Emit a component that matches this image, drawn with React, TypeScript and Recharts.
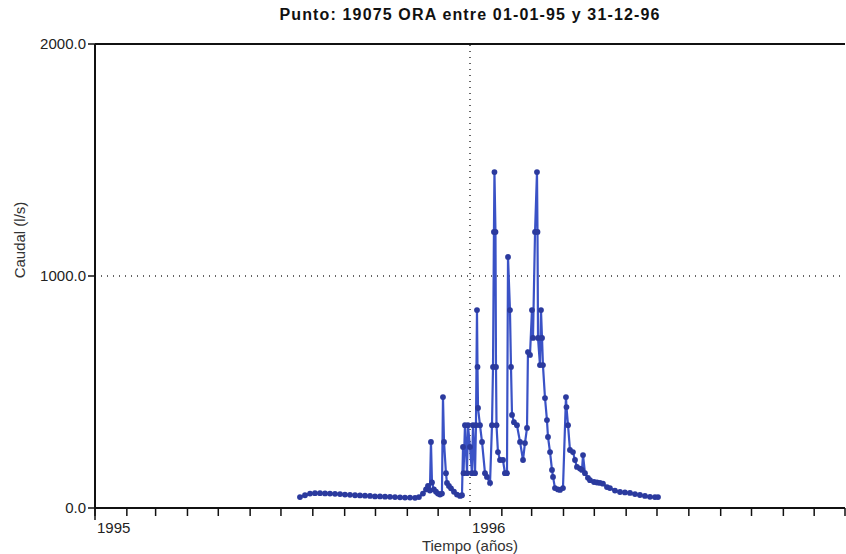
import { LineChart, Line, XAxis, YAxis, ReferenceLine } from 'recharts';

// Días desde 01-01-95 y caudal medido (l/s)
const dias = [
  199.5, 204.4, 209.3, 214.1, 219.0, 223.9, 228.7, 233.6, 238.5, 243.3,
  248.2, 253.1, 257.9, 262.8, 267.7, 272.5, 277.4, 282.3, 287.1, 292.0,
  296.9, 301.7, 306.6, 311.5, 315.3, 319.2, 322.2, 324.1, 326.0, 327.0,
  328.0, 329.9, 331.9, 333.8, 335.8, 337.7, 338.7, 339.7, 341.6, 342.6,
  344.5, 346.5, 349.4, 352.3, 355.3, 357.2, 358.2, 358.7, 360.1, 362.1,
  363.0, 365.0, 366.9, 367.9, 369.9, 370.8, 371.8, 372.3, 372.8, 374.7,
  376.7, 379.6, 381.5, 384.5, 386.4, 387.4, 388.3, 388.8, 389.8, 390.3,
  390.8, 392.2, 394.2, 397.1, 399.0, 401.0, 402.0, 403.9, 404.9, 405.9,
  407.8, 410.7, 413.7, 416.6, 418.5, 420.5, 421.4, 423.4, 425.3, 426.3,
  428.3, 430.2, 430.7, 431.2, 433.1, 434.1, 435.1, 436.0, 438.0, 439.9,
  440.9, 442.9, 444.8, 445.8, 447.7, 450.6, 452.6, 455.5, 458.4, 458.9,
  460.4, 462.3, 465.2, 467.2, 469.1, 472.0, 474.0, 475.0, 476.9, 479.8,
  481.8, 485.7, 488.6, 491.5, 494.4, 498.3, 501.2, 506.1, 511.0, 515.8,
  520.7, 525.6, 530.4, 535.3, 540.2, 545.0, 548.0,
];

const caudal = [
  47, 55, 62, 64, 64, 63, 62, 61, 60, 58,
  57, 55, 54, 53, 52, 50, 50, 49, 48, 47,
  46, 45, 45, 44, 47, 62, 80, 95, 75, 285,
  110, 80, 70, 62, 58, 62, 478, 285, 150, 108,
  95, 85, 70, 58, 52, 55, 263, 150, 357, 150,
  357, 263, 150, 357, 150, 357, 853, 608, 431, 357,
  285, 150, 134, 108, 357, 608, 1190, 1448, 1190, 608,
  357, 241, 207, 207, 150, 150, 1082, 853, 608, 401,
  370, 357, 285, 207, 280, 345, 672, 660, 853, 733,
  1190, 1448, 1190, 733, 616, 853, 733, 616, 474, 379,
  306, 241, 164, 134, 86, 80, 78, 86, 478, 435,
  357, 250, 241, 207, 177, 170, 164, 228, 150, 130,
  120, 112, 110, 108, 105, 90, 86, 75, 69, 67,
  65, 60, 56, 52, 48, 47, 47,
];

// Comienzo de cada mes (días desde 01-01-95)
const ticksMeses = [
  0, 31, 59, 90, 120, 151, 181, 212, 243, 273, 304, 334,
  365, 396, 425, 456, 486, 517, 547, 578, 609, 639, 670, 700, 730,
];
const etiquetasAnio: Record<number, string> = { 0: '1995', 365: '1996' };
const ticksCaudal = [0, 1000, 2000];

const datos = dias.map((d, i) => ({ dia: d, caudal: caudal[i] }));

const fuente = '"Liberation Sans", Arial, sans-serif';

const TickAnio = (props: any) => {
  const { x, y, payload } = props;
  const etiqueta = etiquetasAnio[payload.value];
  return (
    <g>
      {payload.value === 0 && <line x1={x} y1={y - 10} x2={x} y2={y + 2} stroke="#111" strokeWidth={1.5} />}
      {etiqueta && (
        <text x={x + 2} y={y + 15} fontSize={15} fontFamily={fuente} fill="#222" textAnchor="start">
          {etiqueta}
        </text>
      )}
    </g>
  );
};

export default function App() {
  return (
    <div style={{ position: 'absolute', left: 0, top: 0, width: 846, height: 554, background: '#fff', fontFamily: fuente }}>
      <div style={{ position: 'absolute', left: 0, width: 846, top: 6, textAlign: 'center', paddingLeft: 94, boxSizing: 'border-box', fontSize: 16, fontWeight: 'bold', letterSpacing: 1.15, color: '#111' }}>
        Punto: 19075 ORA entre 01-01-95 y 31-12-96
      </div>
      <div style={{ position: 'absolute', left: 19, top: 240, transform: 'translate(-50%, -50%) rotate(-90deg)', fontSize: 15, color: '#333', whiteSpace: 'nowrap' }}>
        Caudal (l/s)
      </div>
      <div style={{ position: 'absolute', left: 470, top: 537, transform: 'translateX(-50%)', fontSize: 15, lineHeight: '17px', color: '#333', whiteSpace: 'nowrap' }}>
        Tiempo (años)
      </div>
      <LineChart width={846} height={554} data={datos} margin={{ top: 44, right: 1, left: 20, bottom: 16 }}>
        <XAxis
          type="number"
          dataKey="dia"
          domain={[0, 730]}
          ticks={ticksMeses}
          interval={0}
          tickSize={8}
          tick={<TickAnio />}
          height={30}
          axisLine={{ stroke: '#111', strokeWidth: 2 }}
          tickLine={{ stroke: '#111', strokeWidth: 1.5 }}
        />
        <YAxis
          type="number"
          domain={[0, 2000]}
          ticks={ticksCaudal}
          tickFormatter={(v: number) => v.toFixed(1)}
          width={75}
          tickSize={7}
          tick={{ fontSize: 15, fill: '#222', fontFamily: fuente }}
          axisLine={{ stroke: '#111', strokeWidth: 2 }}
          tickLine={{ stroke: '#111', strokeWidth: 1.5 }}
        />
        <ReferenceLine y={2000} stroke="#111" strokeWidth={2} />
        <ReferenceLine y={1000} stroke="#333" strokeDasharray="1 5" strokeWidth={1.5} />
        <ReferenceLine x={365} stroke="#333" strokeDasharray="1 5" strokeWidth={1.5} />
        <Line
          type="linear"
          dataKey="caudal"
          stroke="#3a52c6"
          strokeWidth={2.2}
          dot={{ r: 2.9, fill: '#2b3a9e', stroke: 'none' }}
          isAnimationActive={false}
        />
      </LineChart>
    </div>
  );
}
